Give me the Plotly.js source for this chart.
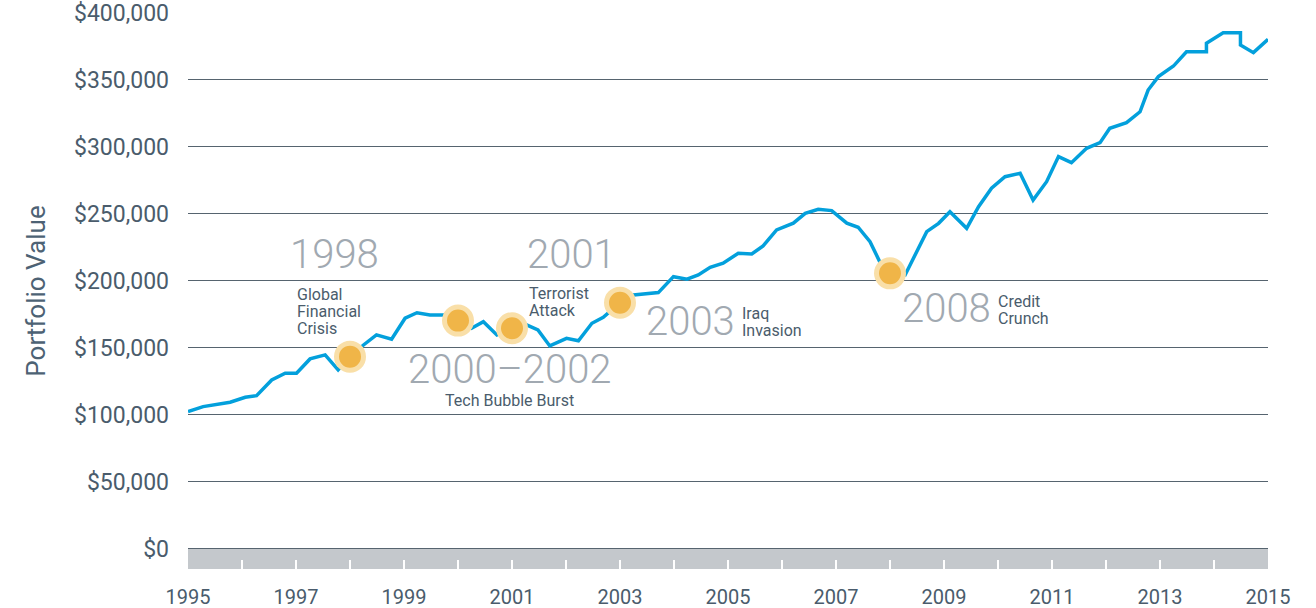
<!DOCTYPE html>
<html>
<head>
<meta charset="utf-8">
<script src="https://cdn.plot.ly/plotly-3.0.1.min.js"></script>
<style>
  html, body { margin: 0; padding: 0; background: #fff; }
  #plot { width: 1316px; height: 608px; }
</style>
</head>
<body>
<div id="plot"></div>
<script>
// portfolio path (decimal years)
const dates = [1995.00, 1995.28, 1995.78, 1996.06, 1996.27, 1996.55, 1996.80, 1997.01, 1997.26, 1997.54,
  1997.78, 1998.00, 1998.25, 1998.49, 1998.77, 1999.02, 1999.24, 1999.48, 1999.73, 2000.00,
  2000.25, 2000.47, 2000.72, 2001.00, 2001.27, 2001.48, 2001.70, 2002.01, 2002.23, 2002.48,
  2002.69, 2003.00, 2003.25, 2003.71, 2003.99, 2004.24, 2004.45, 2004.67, 2004.91, 2005.19,
  2005.44, 2005.65, 2005.90, 2006.21, 2006.43, 2006.67, 2006.92, 2007.20, 2007.41, 2007.63,
  2007.81, 2008.00, 2008.28, 2008.43, 2008.68, 2008.90, 2009.11, 2009.42, 2009.64, 2009.88,
  2010.13, 2010.41, 2010.65, 2010.90, 2011.12, 2011.36, 2011.64, 2011.89, 2012.07, 2012.38,
  2012.63, 2012.78, 2012.97, 2013.25, 2013.49, 2013.86, 2013.86, 2014.17, 2014.49, 2014.49,
  2014.73, 2015.00];
const portfolio = [102500, 106200, 109500, 113200, 114400, 126100, 131100, 131100, 141800, 144800,
  133600, 143500, 152200, 159700, 156500, 172200, 176300, 174600, 174600, 170400,
  164700, 169600, 159700, 164700, 167200, 163400, 151500, 157200, 155400, 168400,
  172900, 183800, 189500, 191300, 203200, 201300, 204500, 210200, 213200, 220700,
  220100, 226100, 238100, 243100, 250500, 253500, 252500, 243100, 240100, 229300,
  214400, 205700, 204500, 216900, 236800, 243000, 251700, 239300, 255400, 269200,
  277800, 280400, 260400, 274100, 292800, 288300, 299000, 303200, 314000, 318100,
  326300, 342500, 352500, 360400, 371100, 371100, 377400, 385300, 385300, 376100,
  370400, 380400];

// events
const eventX = [1998.0, 2000.0, 2001.0, 2003.0, 2008.0];
const eventY = [143500, 170400, 164700, 183800, 205700];

// axis ticks
const tickYears = [1995, 1996, 1997, 1998, 1999, 2000, 2001, 2002, 2003, 2004, 2005,
  2006, 2007, 2008, 2009, 2010, 2011, 2012, 2013, 2014, 2015];
const tickYearText = ['1995', '', '1997', '', '1999', '', '2001', '', '2003', '', '2005',
  '', '2007', '', '2009', '', '2011', '', '2013', '', '2015'];
const valueTicks = [0, 50000, 100000, 150000, 200000, 250000, 300000, 350000, 400000];
const valueTickText = ['$0', '$50,000', '$100,000', '$150,000', '$200,000', '$250,000',
  '$300,000', '$350,000', '$400,000'];

// big labels: text, x, y, anchor
const bigLabels = [
  ['1998', 1997.72, 219400, 'center'],
  ['2001', 2002.11, 219400, 'center'],
  ['2000\u20132002', 2000.96, 133600, 'center'],
  ['2003', 2005.16, 169400, 'right'],
  ['2008', 2009.90, 179100, 'right']
];
// small notes: lines, x, y of first line, anchor
const notes = [
  [['Global', 'Financial', 'Crisis'], 1996.98, 189600, 'left'],
  [['Terrorist', 'Attack'], 2001.28, 190300, 'left'],
  [['Tech Bubble Burst'], 2000.96, 110400, 'center'],
  [['Iraq', 'Invasion'], 2005.22, 175400, 'left'],
  [['Credit', 'Crunch'], 2009.96, 184700, 'left']
];

const textColor = '#4a5c6c';
const bigColor = '#a1a9b1';

let annotations = [];
bigLabels.forEach(function (b) {
  annotations.push({
    text: b[0], x: b[1], y: b[2], xref: 'x', yref: 'y',
    xanchor: b[3], yanchor: 'middle', showarrow: false,
    font: {family: 'Roboto', size: 40, weight: 300, color: bigColor}
  });
});
notes.forEach(function (n) {
  n[0].forEach(function (line, i) {
    annotations.push({
      text: line, x: n[1], y: n[2], xref: 'x', yref: 'y', yshift: -17 * i,
      xanchor: n[3], yanchor: 'middle', showarrow: false,
      font: {family: 'Roboto', size: 16, color: textColor}
    });
  });
});

let traceLine = {
  x: dates,
  y: portfolio,
  mode: 'lines',
  type: 'scatter',
  line: {color: '#03a0dc', width: 3.5},
  hoverinfo: 'skip'
};
let traceEvents = {
  x: eventX,
  y: eventY,
  mode: 'markers',
  type: 'scatter',
  marker: {color: '#f0b548', size: 27, line: {color: '#f9dfa8', width: 5}},
  cliponaxis: false,
  hoverinfo: 'skip'
};

let layout = {
  width: 1316,
  height: 608,
  margin: {l: 188, r: 48, t: 13, b: 39},
  showlegend: false,
  paper_bgcolor: '#ffffff',
  plot_bgcolor: '#ffffff',
  font: {family: 'Roboto', color: textColor},
  xaxis: {
    range: [1995, 2015],
    tickvals: tickYears,
    ticktext: tickYearText,
    ticks: 'inside',
    ticklen: 9,
    tickwidth: 2,
    tickcolor: '#ffffff',
    ticklabelstandoff: 14,
    showgrid: false,
    zeroline: false,
    showline: false,
    tickfont: {size: 20, color: textColor}
  },
  yaxis: {
    range: [-15000, 400000],
    tickvals: valueTicks,
    ticktext: valueTickText,
    gridcolor: '#56646f',
    gridwidth: 1,
    zeroline: false,
    showline: false,
    ticks: '',
    ticklabelstandoff: 18,
    tickfont: {size: 23, color: textColor},
    title: {text: 'Portfolio Value', font: {size: 26, color: '#4d6274'}, standoff: 20}
  },
  shapes: [{
    type: 'rect', xref: 'paper', yref: 'y', layer: 'between',
    x0: 0, x1: 1, y0: -15000, y1: 500,
    fillcolor: '#c4c8cc', line: {width: 0}
  }],
  annotations: annotations
};

Plotly.newPlot('plot', [traceLine, traceEvents], layout, {displayModeBar: false, staticPlot: true});
</script>
</body>
</html>
